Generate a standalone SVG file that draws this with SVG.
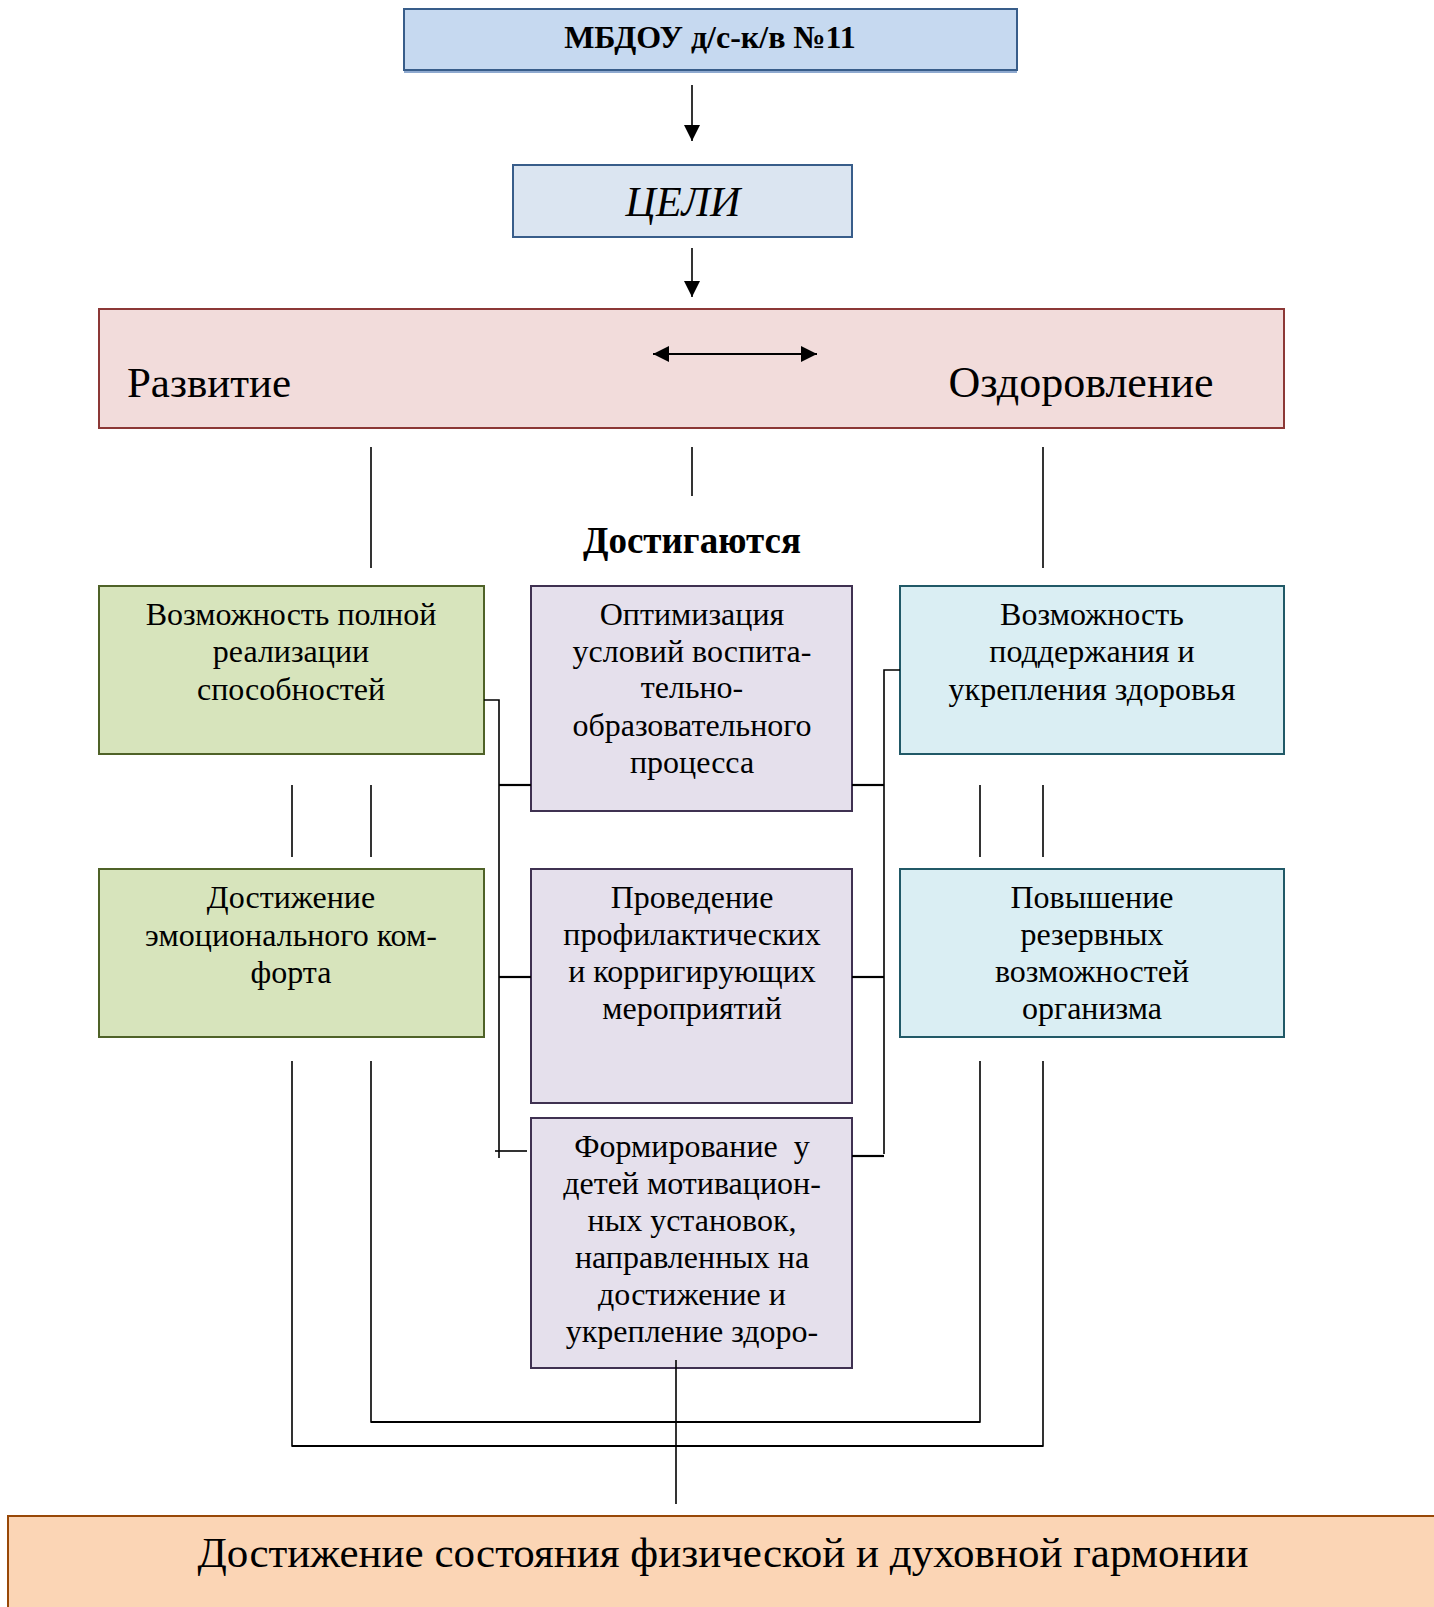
<svg xmlns="http://www.w3.org/2000/svg" width="1434" height="1607" viewBox="0 0 1434 1607">
<defs>
<style>
text{font-family:"Liberation Serif","Times New Roman",serif;fill:#000;text-anchor:middle}
.box{font-size:32px}
.ln{stroke:#000;stroke-width:1.6;fill:none}
.lnb{stroke:#000;stroke-width:2.2;fill:none}
</style>
<marker id="ah" markerUnits="userSpaceOnUse" markerWidth="16" markerHeight="16" viewBox="0 0 16 16" refX="16" refY="8" orient="auto-start-reverse">
<path d="M0,0 L16,8 L0,16 Z" fill="#000"/>
</marker>
</defs>
<rect width="1434" height="1607" fill="#fff"/>

<g id="node-mbdou">
<rect x="404" y="9" width="613" height="61" fill="#c6d9f0" stroke="#385d8a" stroke-width="2"/>
<line x1="404" y1="72" x2="1017" y2="72" stroke="#8ea9cf" stroke-width="2"/>
<text x="710" y="48" font-size="32" font-weight="bold">МБДОУ д/с-к/в №11</text>
</g>

<g id="node-celi">
<rect x="513" y="165" width="339" height="72" fill="#dbe5f1" stroke="#385d8a" stroke-width="2"/>
<text x="683" y="216" font-size="42" font-style="italic">ЦЕЛИ</text>
</g>

<g id="node-goals">
<rect x="99" y="309" width="1185" height="119" fill="#f2dcdb" stroke="#8c3836" stroke-width="2"/>
<text x="209" y="397" font-size="43">Развитие</text>
<text x="1081" y="397" font-size="44">Оздоровление</text>
</g>

<g id="label-dostigayutsya">
<text x="692" y="553" font-size="37" font-weight="bold">Достигаются</text>
</g>

<g id="node-g1">
<rect x="99" y="586" width="385" height="168" fill="#d7e4bc" stroke="#4f6228" stroke-width="2"/>
<text class="box" x="291" y="625">Возможность полной</text>
<text class="box" x="291" y="662">реализации</text>
<text class="box" x="291" y="700">способностей</text>
</g>

<g id="node-p1">
<rect x="531" y="586" width="321" height="225" fill="#e5e0ec" stroke="#3f3151" stroke-width="2"/>
<text class="box" x="692" y="625">Оптимизация</text>
<text class="box" x="692" y="662">условий воспита-</text>
<text class="box" x="692" y="698">тельно-</text>
<text class="box" x="692" y="736">образовательного</text>
<text class="box" x="692" y="773">процесса</text>
</g>

<g id="node-b1">
<rect x="900" y="586" width="384" height="168" fill="#daeef3" stroke="#215967" stroke-width="2"/>
<text class="box" x="1092" y="625">Возможность</text>
<text class="box" x="1092" y="662">поддержания и</text>
<text class="box" x="1092" y="700">укрепления здоровья</text>
</g>

<g id="node-g2">
<rect x="99" y="869" width="385" height="168" fill="#d7e4bc" stroke="#4f6228" stroke-width="2"/>
<text class="box" x="291" y="908">Достижение</text>
<text class="box" x="291" y="946">эмоционального ком-</text>
<text class="box" x="291" y="983">форта</text>
</g>

<g id="node-p2">
<rect x="531" y="869" width="321" height="234" fill="#e5e0ec" stroke="#3f3151" stroke-width="2"/>
<text class="box" x="692" y="908">Проведение</text>
<text class="box" x="692" y="945">профилактических</text>
<text class="box" x="692" y="982">и корригирующих</text>
<text class="box" x="692" y="1019">мероприятий</text>
</g>

<g id="node-b2">
<rect x="900" y="869" width="384" height="168" fill="#daeef3" stroke="#215967" stroke-width="2"/>
<text class="box" x="1092" y="908">Повышение</text>
<text class="box" x="1092" y="945">резервных</text>
<text class="box" x="1092" y="982">возможностей</text>
<text class="box" x="1092" y="1019">организма</text>
</g>

<g id="node-p3">
<rect x="531" y="1118" width="321" height="250" fill="#e5e0ec" stroke="#3f3151" stroke-width="2"/>
<text class="box" x="692" y="1157" xml:space="preserve">Формирование  у</text>
<text class="box" x="692" y="1194">детей мотивацион-</text>
<text class="box" x="692" y="1231">ных установок,</text>
<text class="box" x="692" y="1268">направленных на</text>
<text class="box" x="692" y="1305">достижение и</text>
<text class="box" x="692" y="1342">укрепление здоро-</text>
</g>

<g id="node-result">
<rect x="8" y="1516" width="1440" height="100" fill="#fbd5b5" stroke="#984807" stroke-width="2"/>
<text x="723" y="1567" font-size="43">Достижение состояния физической и духовной гармонии</text>
</g>

<g id="connectors">
<line class="ln" x1="692" y1="85" x2="692" y2="141" marker-end="url(#ah)"/>
<line class="ln" x1="692" y1="248" x2="692" y2="297" marker-end="url(#ah)"/>
<line class="lnb" x1="653" y1="354" x2="817" y2="354" marker-start="url(#ah)" marker-end="url(#ah)"/>
<line class="ln" x1="371" y1="447" x2="371" y2="568"/>
<line class="ln" x1="692" y1="447" x2="692" y2="496"/>
<line class="ln" x1="1043" y1="447" x2="1043" y2="568"/>
<line class="ln" x1="292" y1="785" x2="292" y2="857"/>
<line class="ln" x1="371" y1="785" x2="371" y2="857"/>
<line class="ln" x1="980" y1="785" x2="980" y2="857"/>
<line class="ln" x1="1043" y1="785" x2="1043" y2="857"/>
<polyline class="ln" points="484,700 499,700 499,1158"/>
<line class="lnb" x1="499" y1="785" x2="531" y2="785"/>
<line class="lnb" x1="499" y1="977" x2="531" y2="977"/>
<line class="ln" x1="495" y1="1151" x2="527" y2="1151"/>
<polyline class="ln" points="900,670 884,670 884,1154"/>
<line class="lnb" x1="852" y1="785" x2="884" y2="785"/>
<line class="lnb" x1="852" y1="977" x2="884" y2="977"/>
<line class="lnb" x1="852" y1="1156" x2="884" y2="1156"/>
<polyline class="ln" points="371,1061 371,1422 980,1422 980,1061"/>
<polyline class="ln" points="292,1061 292,1446 1043,1446 1043,1061"/>
<line class="lnb" x1="371" y1="1422" x2="980" y2="1422"/>
<line class="lnb" x1="292" y1="1446" x2="1043" y2="1446"/>
<line class="ln" x1="676" y1="1360" x2="676" y2="1504"/>
</g>
</svg>
